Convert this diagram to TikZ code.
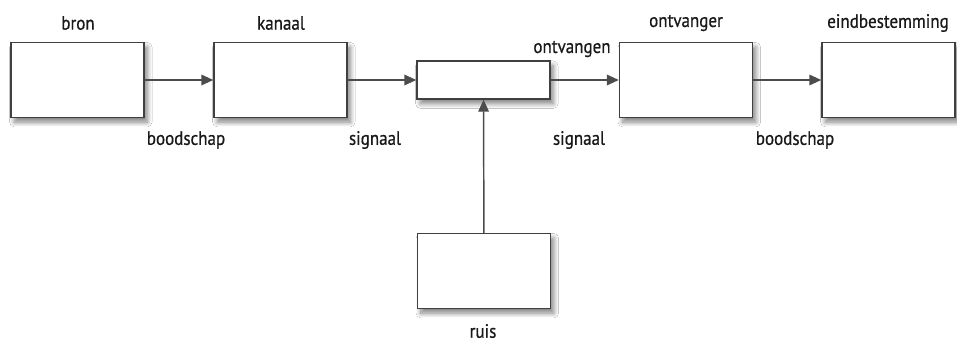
\documentclass[tikz,border=0pt]{standalone}
\usepackage{fontspec}
\setmainfont[FakeStretch=0.88,FakeBold=0.6]{PT Sans}
\usetikzlibrary{arrows.meta,shadows.blur}
\begin{document}
\begin{tikzpicture}[x=0.75pt,y=-0.75pt,
  blok/.style={draw=black!75, line width=1.1pt, fill=white, minimum width=99.75pt,
    minimum height=56.25pt, inner sep=0pt,
    blur shadow={shadow xshift=2.5pt, shadow yshift=-3.5pt, shadow blur radius=3.5pt,
      shadow blur steps=14, shadow opacity=50}},
  smal/.style={blok, minimum height=28.5pt},
  lbl/.style={font=\fontsize{14.5}{16}\selectfont, text=black!90, inner sep=0pt},
  pijl/.style={draw=black!70, line width=1.1pt, -{Triangle[length=9pt,width=8pt]}}]
\useasboundingbox (0,0) rectangle (957,342);
\fill[white] (0,0) rectangle (957,342);
% the five stages and the noise source
\node[blok] (bron) at (77.5,80) {};
\node[blok] (kanaal) at (280.5,80) {};
\node[smal] (menger) at (483.5,80) {};
\node[blok] (ontvanger) at (686,80) {};
\node[blok] (eind) at (888.5,80) {};
\node[blok] (ruis) at (484,271) {};
% captions
\node[lbl] (tbron) at (78,23) {bron};
\node[lbl] (tkanaal) at (281,23) {kanaal};
\node[lbl] (tontv) at (686,23) {ontvanger};
\node[lbl] (teind) at (888,23) {eindbestemming};
\node[lbl] (tontvangen) at (572,49) {ontvangen};
\node[lbl] (tbood1) at (186,140) {boodschap};
\node[lbl] (tsig1) at (375,140) {signaal};
\node[lbl] (tsig2) at (579,140) {signaal};
\node[lbl] (tbood2) at (795,140) {boodschap};
\node[lbl] (truis) at (483,331) {ruis};
% connectors
\draw[pijl] (bron) -- (kanaal);
\draw[pijl] (kanaal) -- (menger);
\draw[pijl] (menger) -- (ontvanger);
\draw[pijl] (ontvanger) -- (eind);
\draw[pijl] (ruis) -- (menger);
\end{tikzpicture}
\end{document}
